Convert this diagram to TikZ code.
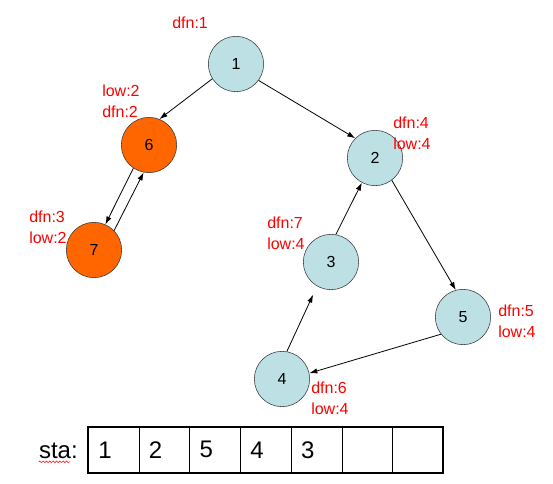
\documentclass[tikz,border=0pt]{standalone}
\usepackage{fontspec}
\setmainfont{Liberation Sans}
\usepackage{xcolor}
\usepackage{tikz}
\usetikzlibrary{arrows.meta,decorations.pathmorphing}
\definecolor{vertexbg}{HTML}{BCE0E4}
\definecolor{hotbg}{HTML}{FF6600}
\definecolor{edgegray}{HTML}{333333}

\begin{document}
\begin{tikzpicture}[
    x=0.75pt, y=-0.75pt,
    vertex/.style={circle, draw=edgegray, fill=vertexbg, minimum size=41.5pt, inner sep=0pt, font=\fontsize{12}{14}\selectfont},
    hot/.style={vertex, fill=hotbg},
    note/.style={anchor=west, inner sep=0pt, text=red, align=left, font=\fontsize{12}{15.75}\selectfont},
    arrow/.style={-{Latex[length=6pt,width=4pt]}, black, semithick},
    cell/.style={draw, thin, minimum width=38pt, minimum height=33.75pt, anchor=north west, inner sep=0pt},
    digit/.style={anchor=west, inner sep=0pt, font=\fontsize{18}{20}\selectfont}
]
\useasboundingbox (0,0) rectangle (553,484);

% vertices
\node[vertex] (n1) at (236,64) {1};
\node[vertex] (n2) at (375,158) {2};
\node[vertex] (n3) at (331,262) {3};
\node[vertex] (n4) at (282,379) {4};
\node[vertex] (n5) at (463,317) {5};
\node[hot] (n6) at (149,145) {6};
\node[hot] (n7) at (94,250) {7};

% dfn / low labels
\node[note] (l1) at (172,23) {dfn:1};
\node[note] (l6) at (102,101.5) {low:2\\dfn:2};
\node[note] (l2) at (393,133) {dfn:4\\low:4};
\node[note] (l7) at (29,227.5) {dfn:3\\low:2};
\node[note] (l3) at (267,233) {dfn:7\\low:4};
\node[note] (l5) at (498,321) {dfn:5\\low:4};
\node[note] (l4) at (311,398) {dfn:6\\low:4};

% edges
\draw[arrow] (n1.212) -- (n6.68);
\draw[arrow] (n1.-36) -- (n2.135);
\draw[arrow] (n6.236) -- (n7.66);
\draw[arrow] (n7.44) -- (n6.259);
\draw[arrow] (n2.-53) -- (n5.105);
\draw[arrow] (n5.218) -- (n4.12);
\draw[arrow, shorten >=7pt] (n4.80) -- (n3.240);
\draw[arrow] (n3.80) -- (n2.242);

% stack
\node[anchor=east, inner sep=0pt, font=\fontsize{18}{20}\selectfont] (sta) at (78,451) {sta:};
\draw[red, decorate, decoration={snake, amplitude=0.6pt, segment length=2.5pt}] ([yshift=-2pt]sta.south west) -- ([yshift=-2pt, xshift=-6pt]sta.south east);
\foreach \i/\v in {0/1,1/2,2/5,3/4,4/3,5/,6/} {
  \node[cell] (c\i) at (88+\i*50.71,427) {};
  \node[digit] (d\i) at ([xshift=7.5pt]c\i.west) {\v};
}
\draw[line width=1.5pt] (c0.north west) rectangle (c6.south east);
\end{tikzpicture}
\end{document}
